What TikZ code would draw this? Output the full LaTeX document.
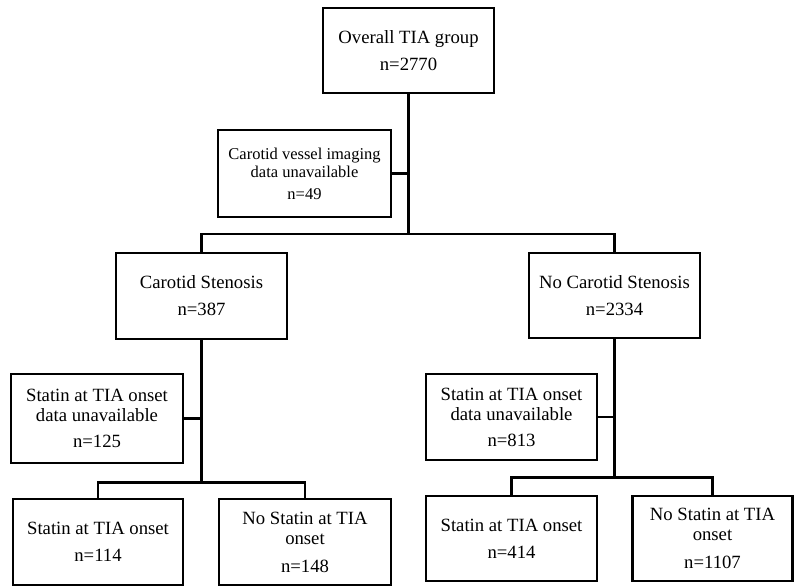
\documentclass[tikz,border=0pt]{standalone}
\usepackage{fontspec}
\setmainfont{Liberation Serif}
\begin{document}
\begin{tikzpicture}[x=1pt,y=-1pt,
  box/.style={draw,line width=2.4pt,inner sep=0pt,align=center,
    font=\fontsize{18.7}{20}\selectfont},
  conn/.style={line width=2.4pt}]
\useasboundingbox (0,0) rectangle (794,587);
\node[box,minimum width=171,minimum height=85] (top) at (408.5,50.5) {Overall TIA group\\[7pt]n=2770};
\node[box,minimum width=173,minimum height=87,font=\fontsize{16.5}{18}\selectfont] (cv) at (304.5,173.5) {Carotid vessel imaging\\data unavailable\\[4pt]n=49};
\node[box,minimum width=171,minimum height=86] (cs) at (201.5,296) {Carotid Stenosis\\[7pt]n=387};
\node[box,minimum width=171,minimum height=85] (ncs) at (614.5,295.5) {No Carotid Stenosis\\[7pt]n=2334};
\node[box,minimum width=172,minimum height=89] (su1) at (97,418.5) {Statin at TIA onset\\data unavailable\\[6pt]n=125};
\node[box,minimum width=171,minimum height=86] (su2) at (511.5,417) {Statin at TIA onset\\data unavailable\\[6pt]n=813};
\node[box,minimum width=170,minimum height=86] (s1) at (98,542) {Statin at TIA onset\\[7pt]n=114};
\node[box,minimum width=172,minimum height=86] (ns1) at (305,542) {No Statin at TIA\\onset\\[8pt]n=148};
\node[box,minimum width=171,minimum height=85] (s2) at (511.5,538.5) {Statin at TIA onset\\[7pt]n=414};
\node[box,minimum width=160,minimum height=85] (ns2) at (712.5,538.5) {No Statin at TIA\\onset\\[8pt]n=1107};
\coordinate (j1) at (408.5,234);
\coordinate (j2) at (201.5,482.5);
\coordinate (j3) at (614.5,477.5);
\draw[conn] (top.south) -- (j1);
\draw[conn] (cv.east) -- (cv.east -| top.south);
\draw[conn] (cs.north) |- (j1) -| (ncs.north);
\draw[conn] (cs.south) -- (j2);
\draw[conn] (su1.east) -- (su1.east -| cs.south);
\draw[conn] (s1.north) |- (j2) -| (ns1.north);
\draw[conn] (ncs.south) -- (j3);
\draw[conn] (su2.east) -- (su2.east -| ncs.south);
\draw[conn] (s2.north) |- (j3) -| (ns2.north);
\end{tikzpicture}
\end{document}
